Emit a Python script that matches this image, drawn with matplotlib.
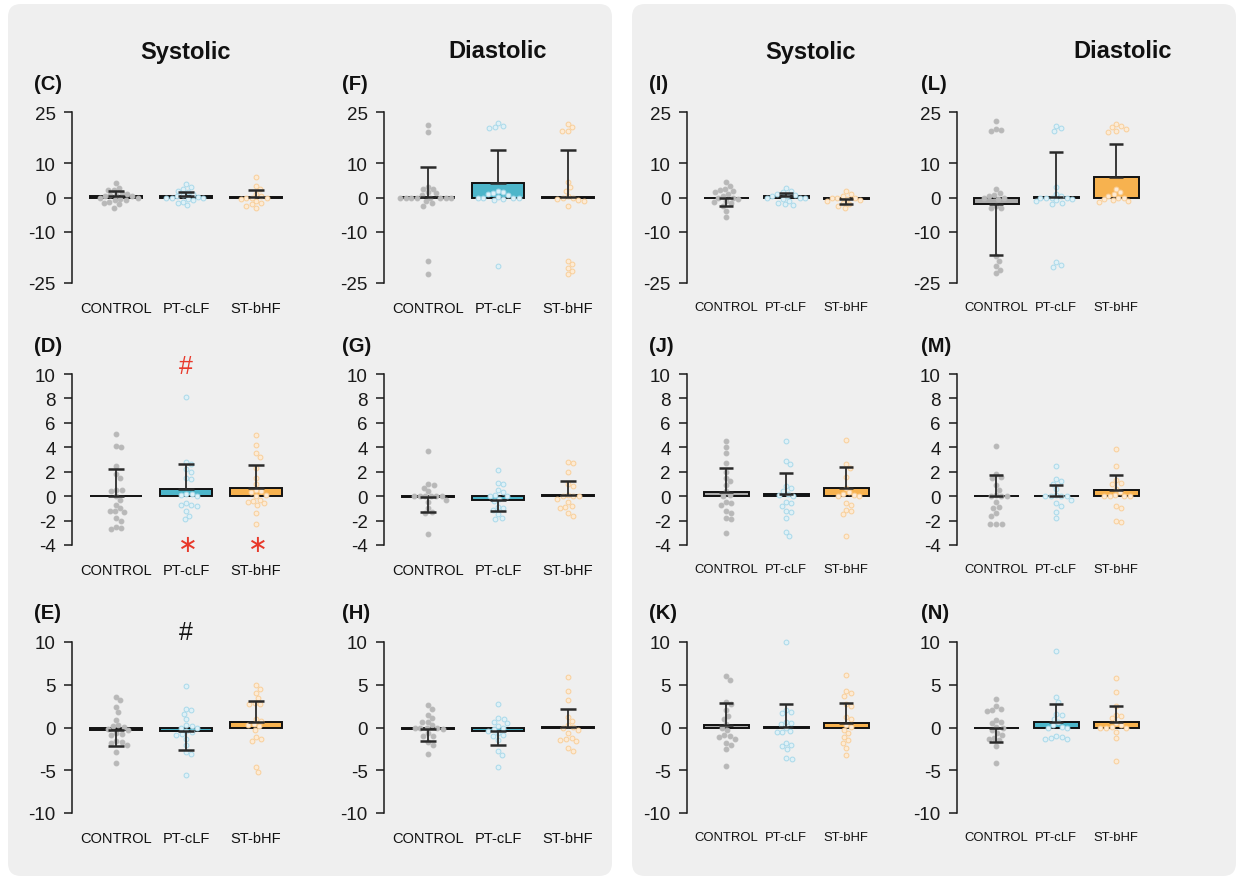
import numpy as np
import matplotlib
matplotlib.use("Agg")
import matplotlib.pyplot as plt
from matplotlib.patches import FancyBboxPatch

plt.rcParams['font.family'] = ['Liberation Sans', 'DejaVu Sans']
plt.rcParams['mathtext.fontset'] = 'dejavusans'

# ---------------- data ----------------
GROUPS = ['CONTROL', 'PT-cLF', 'ST-bHF']
TITLES = ['Systolic', 'Diastolic', 'Systolic', 'Diastolic']

# Row 1 (range -25..25)
C_CONTROL = [4.2, 2.8, 2.3, 2.2, 1.4, 1.0, 0.8, 0.7, 0.5, 0.3, 0.0, 0.0, -0.3, -0.6, -0.8, -1.2, -1.6, -2.0, -3.1]
C_PTCLF = [3.9, 3.2, 2.5, 2.0, 1.5, 1.0, 0.6, 0.3, 0.1, 0.0, 0.0, 0.0, -0.3, -0.8, -1.2, -1.7, -2.3]
C_STBHF = [6.0, 3.5, 2.5, 1.0, 0.5, 0.0, 0.0, 0.0, -0.5, -1.0, -1.5, -2.0, -2.5, -3.0]
C_MEAN = [0.4, 0.3, 0.2]
C_ERR = [1.6, 1.4, 2.0]

F_CONTROL = [21.2, 19.2, 3.2, 2.6, 2.4, 1.5, 1.2, 0.8, 0, 0, 0, 0, 0, 0, 0, 0, -1.0, -1.5, -2.4, -18.5, -22.5]
F_PTCLF = [21.8, 21.0, 20.5, 20.2, 2.0, 1.5, 1.2, 1.0, 0.6, 0.2, 0, 0, 0, 0, -0.5, -0.8, -20.0]
F_STBHF = [21.5, 20.5, 19.5, 19.3, 4.5, 3.0, 2.0, 0.5, 0, 0, -0.5, -0.8, -1.0, -2.5, -18.5, -19.5, -20.5, -21.5, -22.5]
F_MEAN = [0.2, 4.1, 0.2]
F_ERR = [8.6, 9.9, 13.8]

I_CONTROL = [4.6, 3.4, 2.4, 2.2, 2.0, 1.5, 1.0, 0.5, 0, 0, -0.3, -1.0, -1.2, -1.7, -2.4, -3.9, -5.6]
I_PTCLF = [2.8, 2.0, 1.5, 1.0, 0.8, 0.5, 0.3, 0, 0, 0, -0.5, -1.0, -1.5, -2.0, -2.2]
I_STBHF = [1.8, 1.0, 0.5, 0, 0, 0, -0.5, -0.8, -1.0, -1.5, -2.0, -2.5, -3.0]
I_MEAN = [-0.1, 0.3, -0.4]
I_ERR = [2.4, 1.0, 1.6]

L_CONTROL = [22.4, 20.1, 19.6, 19.3, 2.4, 1.2, 0.8, 0.5, 0, 0, -0.5, -2.5, -3.0, -3.2, -17.2, -18.6, -20.1, -21.1, -22.0]
L_PTCLF = [20.8, 20.3, 19.3, 3.0, 1.0, 0.5, 0, 0, 0, 0, -0.3, -0.8, -1.0, -1.5, -1.8, -19.0, -19.8, -20.4]
L_STBHF = [21.5, 21.0, 20.5, 20.0, 19.5, 19.2, 2.5, 1.5, 1.0, 0.5, 0, 0, -0.5, -0.8, -1.0, -1.2]
L_MEAN = [-2.0, 0.1, 6.0]
L_ERR = [14.7, 13.3, 9.7]

# Row 2 (range -4..10)
D_CONTROL = [5.1, 4.1, 4.0, 2.5, 1.8, 1.5, 0.5, 0.5, 0.4, 0.0, -0.3, -0.7, -1.0, -1.2, -1.2, -1.3, -1.8, -2.0, -2.5, -2.6, -2.7]
D_PTCLF = [8.1, 2.8, 2.6, 2.2, 2.0, 1.5, 1.4, 0.2, 0.2, 0.1, 0, -0.6, -0.7, -0.7, -0.8, -1.2, -1.6, -1.9]
D_STBHF = [5.0, 4.2, 3.5, 3.2, 2.3, 1.5, 1.0, 0.5, 0.4, 0.3, 0.1, 0, -0.3, -0.4, -0.5, -0.6, -0.7, -1.4, -2.3]
D_MEAN = [0.05, 0.6, 0.7]
D_ERR = [2.2, 2.05, 1.85]

G_CONTROL = [3.7, 1.0, 0.95, 0.7, 0.4, 0.0, 0.0, 0.0, 0.0, 0.0, 0.0, -0.3, -0.5, -1.0, -1.3, -1.4, -3.1]
G_PTCLF = [2.1, 1.1, 1.0, 0.5, 0.3, 0.1, 0.0, 0.0, -0.2, -0.4, -0.9, -1.0, -1.1, -1.5, -1.8, -1.9]
G_STBHF = [2.8, 2.7, 2.0, 1.0, 0.8, 0.1, 0.0, 0.0, 0.0, -0.2, -0.5, -0.8, -0.9, -1.0, -1.4, -1.6]
G_MEAN = [-0.05, -0.3, 0.1]
G_ERR = [1.25, 0.9, 1.15]

J_CONTROL = [4.5, 4.0, 3.5, 2.7, 2.0, 1.5, 1.2, 0.9, 0.4, 0.1, 0.0, -0.5, -0.6, -0.7, -1.2, -1.4, -1.8, -1.9, -3.0]
J_PTCLF = [4.5, 2.9, 2.6, 0.8, 0.7, 0.4, 0.2, 0.1, 0, -0.5, -0.6, -0.8, -1.2, -1.3, -1.8, -2.9, -3.3]
J_STBHF = [4.6, 2.6, 2.3, 1.6, 0.7, 0.3, 0.2, 0.1, 0, 0, -0.6, -0.7, -1.1, -1.2, -1.5, -3.3]
J_MEAN = [0.35, 0.15, 0.7]
J_ERR = [1.95, 1.75, 1.7]

M_CONTROL = [4.1, 1.8, 1.6, 1.5, 0.9, 0.5, 0.1, 0.0, 0.0, 0.0, -0.5, -0.9, -1.0, -1.4, -1.6, -2.3, -2.3, -2.3]
M_PTCLF = [2.5, 1.4, 1.2, 1.0, 0.6, 0.1, 0, 0, 0, 0, -0.3, -0.6, -0.8, -1.3, -1.8]
M_STBHF = [3.9, 2.5, 1.3, 1.1, 1.0, 0.6, 0.3, 0.1, 0, 0, 0, 0, -0.8, -1.0, -2.0, -2.1]
M_MEAN = [0.05, 0.05, 0.5]
M_ERR = [1.65, 0.9, 1.25]

# Row 3 (range -10..10)
E_CONTROL = [3.6, 3.2, 2.4, 1.8, 0.9, 0.3, 0.2, 0.1, -0.2, -0.3, -0.7, -0.8, -0.9, -1.6, -1.7, -1.8, -2.0, -2.9, -4.2]
E_PTCLF = [4.9, 2.2, 2.0, 1.6, 1.0, 0.3, 0.2, 0.0, -0.1, -0.4, -0.5, -0.8, -0.9, -1.3, -2.0, -2.9, -3.1, -5.5]
E_STBHF = [5.0, 4.5, 4.0, 3.4, 2.9, 2.8, 2.8, 1.0, 0.8, 0.4, 0.3, 0.2, -0.3, -1.1, -1.3, -1.6, -4.6, -5.2]
E_MEAN = [-0.3, -0.45, 0.6]
E_ERR = [1.9, 2.2, 2.55]

H_CONTROL = [2.6, 2.2, 1.5, 1.1, 0.7, 0.6, 0.3, 0.0, 0.0, 0.0, 0.0, -0.2, -0.7, -1.0, -1.0, -1.7, -2.0, -3.1]
H_PTCLF = [2.7, 1.1, 1.0, 0.7, 0.5, 0.2, 0.0, -0.2, -0.4, -0.7, -0.9, -1.0, -1.5, -2.8, -3.2, -4.6]
H_STBHF = [5.9, 4.3, 3.2, 1.2, 0.8, 0.3, 0.1, 0.0, -0.3, -0.7, -1.2, -1.3, -1.5, -1.6, -2.4, -2.7]
H_MEAN = [-0.15, -0.4, 0.1]
H_ERR = [1.45, 1.65, 2.05]

K_CONTROL = [6.0, 5.6, 3.0, 2.8, 2.0, 1.4, 1.0, 0.4, 0.0, -0.3, -0.9, -1.0, -1.1, -1.3, -1.8, -2.0, -2.5, -4.5]
K_PTCLF = [10.0, 2.1, 1.8, 1.7, 0.7, 0.5, 0.4, 0.0, -0.4, -0.5, -0.5, -1.8, -2.1, -2.2, -2.5, -3.6, -3.7]
K_STBHF = [6.1, 4.3, 4.0, 3.7, 2.8, 2.5, 1.2, 1.0, 0.3, 0.1, -0.3, -0.7, -1.1, -1.5, -1.8, -2.4, -3.2]
K_MEAN = [0.35, 0.05, 0.55]
K_ERR = [2.5, 2.75, 2.35]

N_CONTROL = [3.3, 2.5, 2.2, 2.0, 1.9, 0.9, 0.6, 0.5, 0.1, 0, -0.3, -0.6, -0.9, -1.2, -1.3, -1.5, -2.2, -4.1]
N_PTCLF = [8.9, 3.6, 3.0, 1.6, 1.5, 1.0, 0.6, 0.3, 0.1, 0, 0, -1.0, -1.1, -1.2, -1.3, -1.4]
N_STBHF = [5.8, 4.2, 2.5, 1.5, 1.3, 1.1, 0.5, 0.3, 0.1, 0, 0, 0, -0.5, -1.2, -3.9]
N_MEAN = [-0.05, 0.6, 0.65]
N_ERR = [1.7, 2.2, 1.9]

ROW_YLIM = [(-25, 25), (-4, 10), (-10, 10)]
ROW_YTICKS = [[-25, -10, 0, 10, 25], [-4, -2, 0, 2, 4, 6, 8, 10], [-10, -5, 0, 5, 10]]

PANEL_DATA = {
    'C': (C_CONTROL, C_PTCLF, C_STBHF, C_MEAN, C_ERR),
    'F': (F_CONTROL, F_PTCLF, F_STBHF, F_MEAN, F_ERR),
    'I': (I_CONTROL, I_PTCLF, I_STBHF, I_MEAN, I_ERR),
    'L': (L_CONTROL, L_PTCLF, L_STBHF, L_MEAN, L_ERR),
    'D': (D_CONTROL, D_PTCLF, D_STBHF, D_MEAN, D_ERR),
    'G': (G_CONTROL, G_PTCLF, G_STBHF, G_MEAN, G_ERR),
    'J': (J_CONTROL, J_PTCLF, J_STBHF, J_MEAN, J_ERR),
    'M': (M_CONTROL, M_PTCLF, M_STBHF, M_MEAN, M_ERR),
    'E': (E_CONTROL, E_PTCLF, E_STBHF, E_MEAN, E_ERR),
    'H': (H_CONTROL, H_PTCLF, H_STBHF, H_MEAN, H_ERR),
    'K': (K_CONTROL, K_PTCLF, K_STBHF, K_MEAN, K_ERR),
    'N': (N_CONTROL, N_PTCLF, N_STBHF, N_MEAN, N_ERR),
}
LETTERS = [['C', 'F', 'I', 'L'], ['D', 'G', 'J', 'M'], ['E', 'H', 'K', 'N']]

# significance marks: (panel, group index, y value, text, color)
MARKS = [('D', 1, 10.65, '#', '#e8392b'),
         ('D', 1, -4.0, r'$\ast$', '#e8392b'),
         ('D', 2, -4.0, r'$\ast$', '#e8392b'),
         ('E', 1, 11.15, '#', '#111111')]

# ---------------- styling / layout ----------------
W, H = 1237, 878
BAR_COLORS = ['#ababab', '#4db6ca', '#f7b24f']
PT_FACE = ['#b8b8b8', '#dff1f7', '#fdebd5']
PT_EDGE = ['#b8b8b8', '#a9d9ea', '#f9cf9a']
COL_X = [72, 384, 687, 957]
COL_W = [220, 220, 190, 190]
COL_SP = [70, 70, 60, 60]
COL_OFF = [44, 44, 39, 39]
COL_XFS = [10.5, 10.5, 9.4, 9.4]
ROW_Y = [113, 375, 643]
ROW_H = 171
TITLE_X = [186, 498, 811, 1123]
LABEL_X = [34, 342, 649, 921]
LABEL_Y = [84, 347, 614]

fig = plt.figure(figsize=(W / 100, H / 100), dpi=100)
fig.patch.set_facecolor('white')

for (x0, x1) in [(8, 612), (632, 1236)]:
    p = FancyBboxPatch((x0 / 100, (H - 877) / 100), (x1 - x0) / 100, (877 - 5) / 100,
                       boxstyle="round,pad=0,rounding_size=0.13",
                       transform=fig.dpi_scale_trans, facecolor='#efefef',
                       edgecolor='none', zorder=0)
    fig.add_artist(p)


def swarm_offsets(ax, yvals, d_px):
    pts = ax.transData.transform(np.column_stack([np.zeros(len(yvals)), yvals]))
    ypx = pts[:, 1]
    order = np.argsort(-np.asarray(yvals), kind='stable')
    px_, py_ = [], []
    out = np.zeros(len(yvals))
    for i in order:
        y = ypx[i]
        cands = [0.0]
        for xp, yp in zip(px_, py_):
            dy = abs(y - yp)
            if dy < d_px:
                dx = np.sqrt(d_px ** 2 - dy ** 2)
                cands += [xp + dx, xp - dx]
        cands = sorted(cands, key=lambda c: (abs(c), -c))
        chosen = cands[-1]
        for c in cands:
            if all((c - xp) ** 2 + (y - yp) ** 2 >= d_px ** 2 - 1e-6 for xp, yp in zip(px_, py_)):
                chosen = c
                break
        px_.append(chosen)
        py_.append(y)
        out[i] = chosen
    return out


axes = {}
for r in range(3):
    for c in range(4):
        letter = LETTERS[r][c]
        x, y, w, h = COL_X[c], ROW_Y[r], COL_W[c], ROW_H
        ax = fig.add_axes([x / W, 1 - (y + h) / H, w / W, h / H])
        ax.set_facecolor('none')
        xl = -COL_OFF[c] / COL_SP[c]
        ax.set_xlim(xl, xl + w / COL_SP[c])
        ax.set_ylim(*ROW_YLIM[r])
        ax.set_yticks(ROW_YTICKS[r])
        ax.set_yticklabels([str(t) for t in ROW_YTICKS[r]])
        ax.set_xticks(range(3))
        ax.set_xticklabels(GROUPS)
        for s in ['top', 'right', 'bottom']:
            ax.spines[s].set_visible(False)
        ax.spines['left'].set_linewidth(1.1)
        ax.spines['left'].set_color('#1a1a1a')
        ax.tick_params(axis='y', length=5.8, width=1.1, pad=6.0, labelsize=13.5,
                       color='#1a1a1a', labelcolor='#1a1a1a')
        ax.tick_params(axis='x', length=0, pad=13, labelsize=COL_XFS[c], labelcolor='#111111')

        ctrl, pt, st, means, errs = PANEL_DATA[letter]
        xs = np.arange(3)
        ax.bar(xs, means, width=0.75, color=BAR_COLORS, edgecolor='#111111',
               linewidth=1.4, zorder=1)
        ppu = ax.bbox.width / (ax.get_xlim()[1] - ax.get_xlim()[0])
        for g, vals in enumerate([ctrl, pt, st]):
            offs = swarm_offsets(ax, vals, 5.6) / ppu
            ax.scatter(g + offs, vals, s=12, facecolor=PT_FACE[g], edgecolor=PT_EDGE[g],
                       linewidth=0.7, zorder=2, clip_on=False)
        lo = [e if m < 0 else 0 for m, e in zip(means, errs)]
        hi = [e if m >= 0 else 0 for m, e in zip(means, errs)]
        cap = 5.8 * (COL_SP[c] / 70)
        ax.errorbar(xs, means, yerr=[lo, hi], fmt='none', ecolor='#2a2a2a',
                    elinewidth=1.3, capsize=cap, capthick=1.8, zorder=3)
        axes[letter] = ax

        fig.text(LABEL_X[c] / W, 1 - LABEL_Y[r] / H, '(' + letter + ')', fontsize=14.5,
                 fontweight='bold', ha='left', va='center', color='#111111')

for c in range(4):
    fig.text(TITLE_X[c] / W, 1 - 52 / H, TITLES[c], fontsize=17, fontweight='bold',
             ha='center', va='center', color='#111111')

for letter, g, yv, txt, col in MARKS:
    ax = axes[letter]
    if txt.startswith('$'):
        ax.text(g, yv, txt, fontsize=17, color=col, ha='center', va='center',
                clip_on=False, zorder=4)
    else:
        ax.text(g, yv, txt, fontsize=18, color=col, ha='center', va='center',
                clip_on=False, zorder=4)

fig.savefig('out.png', dpi=100)
